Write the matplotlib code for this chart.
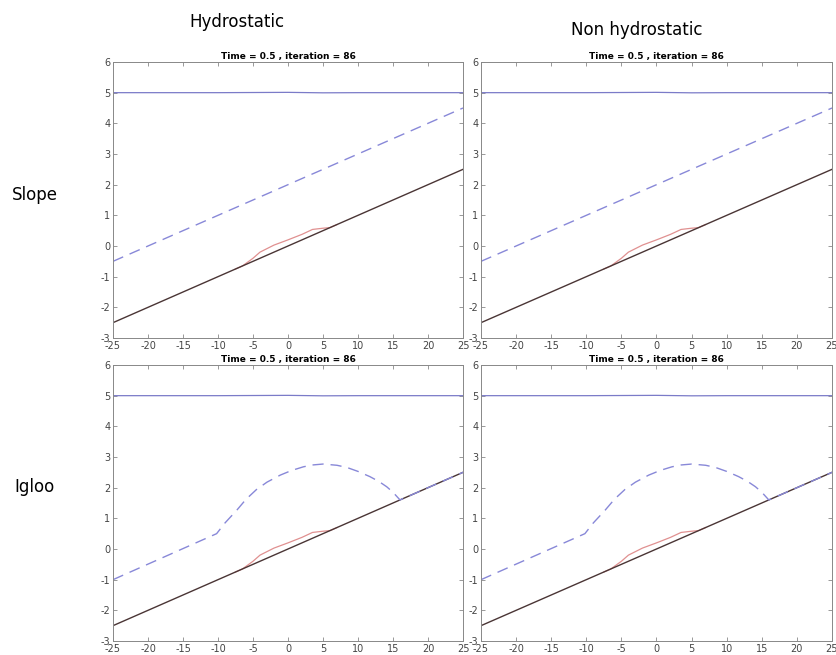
import numpy as np
import matplotlib
matplotlib.use("Agg")
import matplotlib.pyplot as plt

plt.rcParams["axes.unicode_minus"] = False

# Axis range
x_lim = (-25, 25)
y_lim = (-3, 6)
x_ticks = [-25, -20, -15, -10, -5, 0, 5, 10, 15, 20, 25]
y_ticks = [-3, -2, -1, 0, 1, 2, 3, 4, 5, 6]

# Bottom (topography): straight slope
bottom_x = [-25, 25]
bottom_y = [-2.5, 2.5]

# Water surface (red) bump near the shore
water_x = [-7.5, -6.5, -5, -4, -2, 0, 2, 3.5, 5, 6, 7]
water_y = [-0.75, -0.65, -0.4, -0.2, 0.03, 0.2, 0.38, 0.54, 0.58, 0.6, 0.7]

# Top level (solid blue), nearly flat at 5
top_x = [-25, -10, 0, 5, 10, 25]
top_y = [5.0, 5.0, 5.01, 4.995, 5.0, 5.0]

# Dashed blue: slope case
slope_dash_x = [-25, 25]
slope_dash_y = [-0.5, 4.5]

# Dashed blue: igloo case
igloo_dash_x = [-25, -10.2, -9, -7.3, -6, -4.5, -3, -1.1, 0.5, 2.2, 3.5,
                5.0, 7, 8.4, 10, 11.7, 13, 14.1, 15, 16, 25]
igloo_dash_y = [-1.0, 0.5, 0.85, 1.27, 1.62, 1.94, 2.18, 2.41, 2.56, 2.68, 2.74,
                2.77, 2.73, 2.66, 2.53, 2.36, 2.2, 2.03, 1.85, 1.6, 2.5]

title_text = "Time = 0.5 , iteration = 86"
col_labels = ["Hydrostatic", "Non hydrostatic"]
row_labels = ["Slope", "Igloo"]

W, H = 837, 655
fig = plt.figure(figsize=(W / 100, H / 100), dpi=100)

lefts = [113, 481]
widths = [350, 351]
tops = [62, 365]
height = 276

blue = "#7b7bc8"
dash_blue = "#8888d8"
red = "#e09090"
dark = "#4a3535"

for r in range(2):
    for c in range(2):
        ax = fig.add_axes([lefts[c] / W, 1 - (tops[r] + height) / H,
                           widths[c] / W, height / H])
        ax.plot(top_x, top_y, color=blue, lw=0.9)
        if r == 0:
            ax.plot(slope_dash_x, slope_dash_y, color=dash_blue, lw=1.0,
                    ls=(0, (8, 5)))
        ax.plot(water_x, water_y, color=red, lw=0.9)
        ax.plot(bottom_x, bottom_y, color=dark, lw=1.0)
        if r == 1:
            ax.plot(igloo_dash_x, igloo_dash_y, color=dash_blue, lw=1.0,
                    ls=(0, (8, 5)))
        ax.set_xlim(*x_lim)
        ax.set_ylim(*y_lim)
        ax.set_xticks(x_ticks)
        ax.set_yticks(y_ticks)
        ax.tick_params(direction="in", top=True, right=True, length=3,
                       width=0.6, color="#888888", labelsize=7,
                       labelcolor="#444444", pad=2)
        for s in ax.spines.values():
            s.set_color("#888888")
            s.set_linewidth(0.7)
        ax.set_title(title_text, fontsize=6.5, fontweight="bold", pad=2)

fig.text(237 / W, 1 - 22 / H, col_labels[0], fontsize=12, ha="center", va="center")
fig.text(637 / W, 1 - 30 / H, col_labels[1], fontsize=12, ha="center", va="center")
fig.text(35 / W, 1 - 195 / H, row_labels[0], fontsize=12, ha="center", va="center")
fig.text(35 / W, 1 - 487 / H, row_labels[1], fontsize=12, ha="center", va="center")

fig.savefig("out.png", dpi=100)
